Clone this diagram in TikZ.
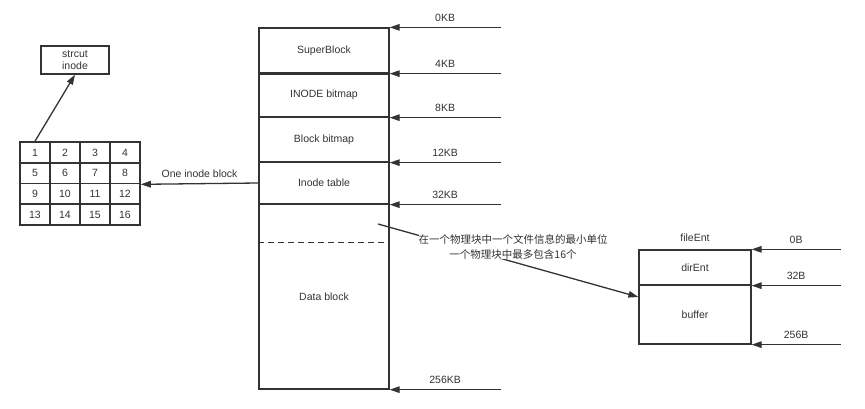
\documentclass[tikz,border=0pt]{standalone}
\usepackage{fontspec}
\setmainfont{Liberation Sans}
\newfontfamily\cjk{Noto Sans CJK SC}
\usetikzlibrary{arrows.meta}
\definecolor{LineGray}{RGB}{51, 51, 51}
\newcommand{\diagfont}{\fontsize{10.5}{12.5}\selectfont}

\begin{document}
\begin{tikzpicture}[x=1pt, y=-1pt, line width=1.3pt, color=LineGray,
		seg/.style={draw, minimum width=130pt, inner sep=0pt, font=\diagfont},
		entry/.style={draw, minimum width=112pt, inner sep=0pt, font=\diagfont},
		cell/.style={draw, line width=1.6pt, minimum width=30pt, minimum height=20.75pt, inner sep=0pt, font=\diagfont},
		arr/.style={-{Triangle[length=10pt, width=6.5pt]}},
		lbl/.style={above=2pt, font=\diagfont}]
		\useasboundingbox (0, 0) rectangle (865, 409);

		\node[seg, minimum height=45pt] (super) at (324, 50.5) {SuperBlock};
		\node[seg, minimum height=44pt] (ibmap) at (324, 95) {INODE bitmap};
		\node[seg, minimum height=45pt] (bbmap) at (324, 139.5) {Block bitmap};
		\node[seg, minimum height=42pt] (itable) at (324, 183) {Inode table};
		\node[seg, minimum height=185pt] (data) at (324, 296.5) {Data block};
		\draw[line width=2.6pt] (super.south west) -- (super.south east);
		\draw[dash pattern=on 6pt off 4pt] ([yshift=-39pt]data.north west) -- ([xshift=-4pt, yshift=-39pt]data.north east);

		\foreach \anc/\txt [count=\i] in {super.north east/0KB, super.south east/4KB, ibmap.south east/8KB,
			bbmap.south east/12KB, itable.south east/32KB, data.south east/256KB}{
			\coordinate (kb\i) at ([xshift=111pt]\anc);
			\draw[arr] (kb\i) -- node[lbl] {\txt} (\anc);
		}

		\foreach \r in {0, ..., 3}{
			\foreach \c in {1, ..., 4}{
				\pgfmathtruncatemacro{\n}{4*\r+\c}
				\node[cell] (c\n) at (5+30*\c, 152.4+20.75*\r) {\n};
		}}
		\node[draw, minimum width=68pt, minimum height=28pt, inner sep=0pt, align=center, font=\diagfont] (inode) at (75, 60) {strcut\\inode};
		\draw[arr] (c1.north) -- (inode.south);
		\draw[arr] (itable.west) -- node[lbl] {One inode block} (c8.south east);

		\node[entry, minimum height=35pt] (dirent) at (695, 267.5) {dirEnt};
		\node[entry, minimum height=59pt] (buffer) at (695, 314.5) {buffer};
		\node[above=4pt, font=\diagfont] (fileent) at (dirent.north) {fileEnt};
		\foreach \anc/\txt [count=\i] in {dirent.north east/0B, dirent.south east/32B, buffer.south east/256B}{
			\coordinate (b\i) at ([xshift=89pt]\anc);
			\draw[arr] (b\i) -- node[lbl] {\txt} (\anc);
		}

		\coordinate (noteStart) at (378, 224);
		\draw[arr] (noteStart) -- ([yshift=17.5pt]buffer.west);
		\node[fill=white, inner sep=0pt, align=center, font=\fontsize{10.5}{15}\selectfont\cjk] (note) at (513, 246.5)
			{在一个物理块中一个文件信息的最小单位\\一个物理块中最多包含16个};
	\end{tikzpicture}
\end{document}
